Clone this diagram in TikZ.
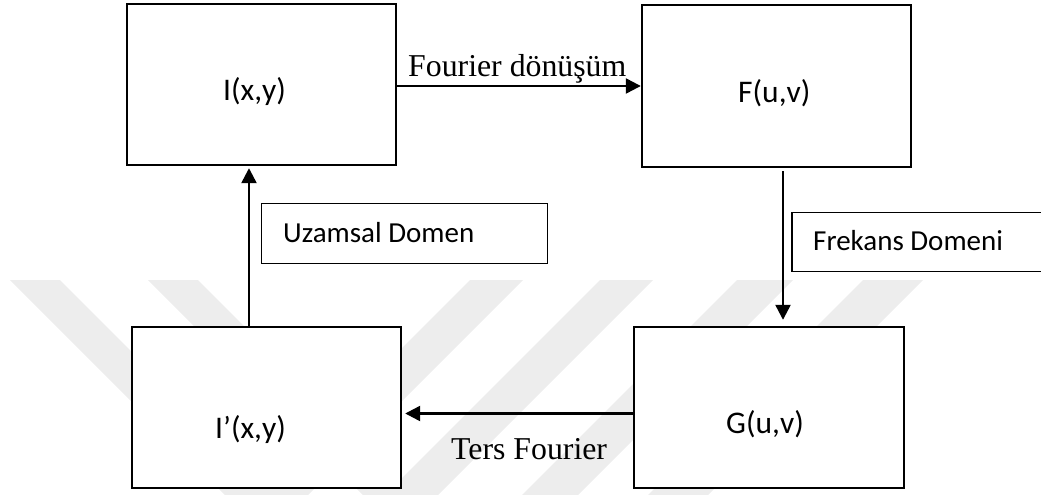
\documentclass[tikz,border=0pt]{standalone}
\usepackage{fontspec}
\setmainfont{Liberation Serif}
\newfontfamily\calib{Carlito}
\usetikzlibrary{arrows.meta}
\begin{document}
\begin{tikzpicture}[x=1pt,y=-1pt,
  block/.style={draw, line width=2.4pt, fill=white, inner sep=0pt},
  tagbox/.style={draw, line width=1.8pt, fill=white, inner sep=0pt},
  arr/.style={line width=2.4pt, -{Triangle[length=15pt,width=15pt]}},
  boxtext/.style={font=\calib\fontsize{31.5}{36}\selectfont, inner sep=0pt, anchor=base west},
  tagtext/.style={font=\calib\fontsize{29}{34}\selectfont, inner sep=0pt, anchor=base west},
  serif/.style={font=\fontsize{31.8}{36}\selectfont, inner sep=0pt, anchor=base west},
  stripe/.style={fill=black!7, draw=none}]
\useasboundingbox (0,0) rectangle (1041,495);
\clip (0,0) rectangle (1041,495);

% faint chevron stripes in the background
\foreach \x/\w in {10/50, 148/50}
  \fill[stripe] (\x,280) -- ++(\w,0) -- ++(215,215) -- ++(-\w,0) -- cycle;
\foreach \x/\w in {470/53, 600/53, 737/56, 863/60}
  \fill[stripe] (\x,280) -- ++(\w,0) -- ++(-215,215) -- ++(-\w,0) -- cycle;

% the four signal blocks
\node[block, minimum width=269pt, minimum height=161pt] (Ibox)  at (261.5,84.5)  {};
\node[block, minimum width=269pt, minimum height=162pt] (Fbox)  at (776.5,86)    {};
\node[block, minimum width=269pt, minimum height=161pt] (Ipbox) at (266.5,407.5) {};
\node[block, minimum width=270pt, minimum height=161pt] (Gbox)  at (769,407.5)   {};

\node[boxtext] (Ilbl)  at (223,100) {I(x,y)};
\node[boxtext] (Flbl)  at (738,102) {F(u,v)};
\node[boxtext] (Iplbl) at (215,438) {I’(x,y)};
\node[boxtext] (Glbl)  at (726,433) {G(u,v)};

% domain tags
\node[tagbox, minimum width=286pt, minimum height=60pt] (Utag) at (404.5,233.5) {};
\node[tagbox, minimum width=290pt, minimum height=59pt] (Ftag) at (937,242) {};
\node[tagtext] (Ulbl) at (283,242) {Uzamsal Domen};
\node[tagtext] (Flbl2) at (813,250) {Frekans Domeni};

% transforms
\draw[arr] (Ibox.east |- Fbox.west) -- (Fbox.west);
\node[serif] (fwd) at (408,77) {Fourier dönüşüm};

\coordinate (down) at ([xshift=6.5pt,yshift=-3pt]Fbox.south);
\draw[arr, shorten >=6pt] (down) -- (down |- Gbox.north);

\coordinate (back) at ([yshift=-6pt]Gbox.west);
\draw[arr, shorten >=3pt] (back) -- (back -| Ipbox.east);
\node[serif] (inv) at (451,459) {Ters Fourier};

\coordinate (up) at ([xshift=-17.5pt]Ipbox.north);
\draw[arr, shorten >=2pt] (up) -- (up |- Ibox.south);
\end{tikzpicture}
\end{document}
